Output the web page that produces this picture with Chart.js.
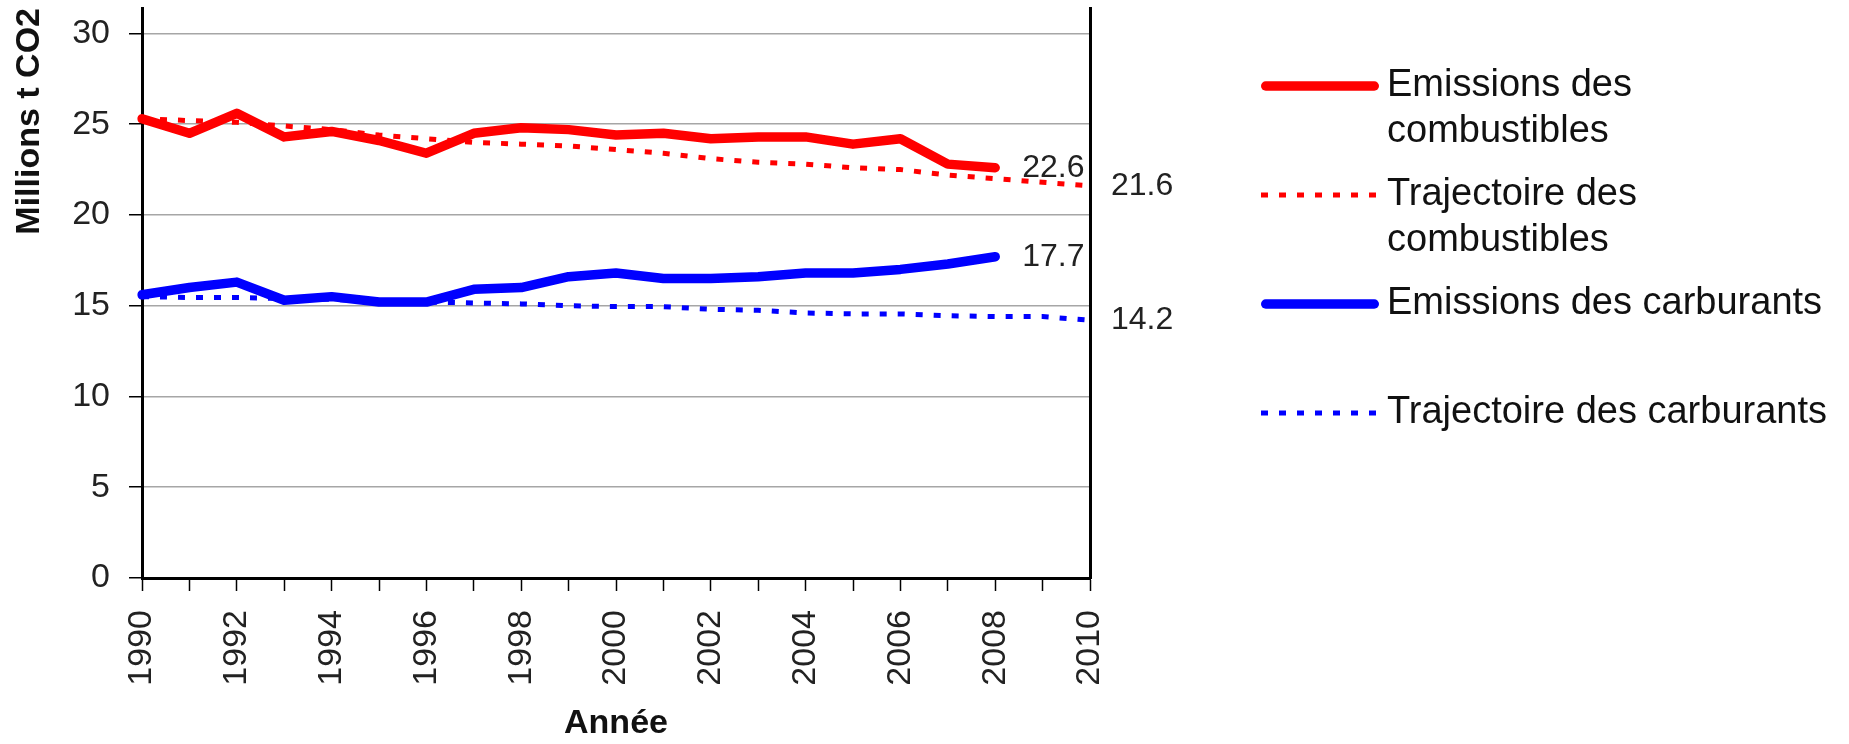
<!DOCTYPE html>
<html lang="fr">
<head>
    <meta charset="UTF-8">
    <title>Emissions de CO2 - combustibles et carburants</title>
    <script src="https://cdn.jsdelivr.net/npm/chart.js"></script>
    <style>
        body {
            margin: 0;
            background: #FFFFFF;
            font-family: 'Liberation Sans', Arial, sans-serif;
        }
        .chart-container {
            position: relative;
            width: 1849px;
            height: 744px;
        }
        #legend {
            position: absolute;
            left: 1261px;
            top: 60px;
            margin: 0;
            padding: 0;
            list-style: none;
        }
        #legend li {
            display: flex;
            align-items: flex-start;
            height: 109px;
        }
        #legend svg {
            flex: none;
            width: 118px;
            height: 52px;
            margin-right: 8px;
        }
        #legend span {
            font-size: 38px;
            line-height: 46px;
            color: #111111;
            max-width: 460px;
        }
    </style>
</head>
<body>
    <div class="chart-container">
        <canvas id="co2Chart"></canvas>
        <ul id="legend"></ul>
    </div>

    <script>
        // Data (Millions t CO2)
        const years = ['1990', '1991', '1992', '1993', '1994', '1995', '1996', '1997', '1998', '1999', '2000',
                       '2001', '2002', '2003', '2004', '2005', '2006', '2007', '2008', '2009', '2010'];
        const emisCombustibles = [25.3, 24.5, 25.6, 24.3, 24.6, 24.1, 23.4, 24.5, 24.8, 24.7, 24.4,
                                  24.5, 24.2, 24.3, 24.3, 23.9, 24.2, 22.8, 22.6];
        const trajCombustibles = [25.3, 25.2, 25.1, 24.9, 24.7, 24.4, 24.2, 24.0, 23.9, 23.8, 23.6,
                                  23.4, 23.1, 22.9, 22.8, 22.6, 22.5, 22.2, 22.0, 21.8, 21.6];
        const emisCarburants = [15.6, 16.0, 16.3, 15.3, 15.5, 15.2, 15.2, 15.9, 16.0, 16.6, 16.8,
                                16.5, 16.5, 16.6, 16.8, 16.8, 17.0, 17.3, 17.7];
        const trajCarburants = [15.5, 15.45, 15.45, 15.4, 15.35, 15.25, 15.2, 15.15, 15.1, 15.0, 14.95,
                                14.95, 14.8, 14.75, 14.6, 14.55, 14.55, 14.45, 14.4, 14.4, 14.2];
        const yTicks = [0, 5, 10, 15, 20, 25, 30];

        const FONT = "'Liberation Sans', Arial, sans-serif";
        Chart.defaults.font.family = FONT;
        Chart.defaults.color = '#222222';

        // value of the last point written next to it
        const endLabels = {
            id: 'endLabels',
            afterDatasetsDraw(chart, args, opts) {
                const ctx = chart.ctx;
                ctx.save();
                ctx.font = opts.size + 'px ' + FONT;
                ctx.fillStyle = opts.color;
                ctx.textAlign = 'left';
                ctx.textBaseline = 'middle';
                chart.data.datasets.forEach((ds, i) => {
                    const pts = chart.getDatasetMeta(i).data;
                    const last = pts[pts.length - 1];
                    const value = ds.data[ds.data.length - 1];
                    const offset = ds.borderDash ? opts.offsetDashed : opts.offset;
                    ctx.fillText(value.toFixed(1), last.x + offset, last.y);
                });
                ctx.restore();
            }
        };

        // legend on the right, built from the datasets
        const htmlLegend = {
            id: 'htmlLegend',
            afterUpdate(chart) {
                const ul = document.getElementById('legend');
                ul.innerHTML = '';
                chart.data.datasets.forEach(ds => {
                    const dashed = ds.borderDash && ds.borderDash.length;
                    const cap = dashed ? 'butt' : 'round';
                    const pad = dashed ? 0 : ds.borderWidth / 2;
                    const li = document.createElement('li');
                    li.innerHTML =
                        '<svg viewBox="0 0 118 52"><line x1="' + pad + '" y1="26" x2="' + (118 - pad) + '" y2="26"' +
                        ' stroke="' + ds.borderColor + '" stroke-width="' + ds.borderWidth + '"' +
                        ' stroke-linecap="' + cap + '"' +
                        (dashed ? ' stroke-dasharray="' + ds.borderDash.join(' ') + '"' : '') +
                        '/></svg><span>' + ds.label + '</span>';
                    ul.appendChild(li);
                });
            }
        };

        const ctx = document.getElementById('co2Chart').getContext('2d');
        const chart = new Chart(ctx, {
            type: 'line',
            data: {
                labels: years,
                datasets: [{
                    label: 'Emissions des combustibles',
                    data: emisCombustibles,
                    borderColor: '#FF0000',
                    borderWidth: 9.5,
                    borderJoinStyle: 'round',
                    borderCapStyle: 'round',
                }, {
                    label: 'Trajectoire des combustibles',
                    data: trajCombustibles,
                    borderColor: '#FF0000',
                    borderWidth: 5,
                    borderDash: [7, 11],
                }, {
                    label: 'Emissions des carburants',
                    data: emisCarburants,
                    borderColor: '#0000FF',
                    borderWidth: 9.5,
                    borderJoinStyle: 'round',
                    borderCapStyle: 'round',
                }, {
                    label: 'Trajectoire des carburants',
                    data: trajCarburants,
                    borderColor: '#0000FF',
                    borderWidth: 5,
                    borderDash: [7, 11],
                }]
            },
            options: {
                responsive: true,
                maintainAspectRatio: false,
                animation: false,
                elements: {
                    point: { radius: 0, hoverRadius: 0 },
                    line: { tension: 0, fill: false }
                },
                layout: {
                    padding: { top: 8, right: 759, bottom: 0, left: 0 }
                },
                scales: {
                    x: {
                        offset: false,
                        grid: {
                            offset: false,
                            drawOnChartArea: false,
                            tickLength: 13,
                            tickColor: '#000000',
                            tickWidth: 1.5,
                        },
                        border: { color: '#000000', width: 3 },
                        ticks: {
                            autoSkip: false,
                            maxRotation: 90,
                            minRotation: 90,
                            padding: 19,
                            font: { size: 34 },
                            callback: (v, i) => (i % 2 === 0 ? years[i] : ''),
                        },
                        title: {
                            display: true,
                            text: 'Année',
                            color: '#111111',
                            padding: 0,
                            font: { size: 34, weight: 'bold' },
                        },
                        afterFit: s => {
                            s.height = 166;
                            s.paddingLeft = 0;
                            s.paddingRight = 0;
                        }
                    },
                    y: {
                        min: 0,
                        max: 31.4,
                        afterBuildTicks: s => {
                            s.ticks = yTicks.map(v => ({ value: v }));
                        },
                        grid: {
                            color: '#A6A6A6',
                            lineWidth: 1.5,
                            tickLength: 13,
                            tickColor: '#000000',
                            tickWidth: 1.5,
                        },
                        border: { color: '#000000', width: 3 },
                        ticks: {
                            padding: 19,
                            font: { size: 34 },
                        },
                        title: {
                            display: true,
                            text: 'Millions t CO2',
                            align: 'end',
                            color: '#111111',
                            padding: { top: 9, bottom: 0 },
                            font: { size: 34, weight: 'bold' },
                        },
                        afterFit: s => {
                            s.width = 142;
                            s.paddingTop = 0;
                            s.paddingBottom = 0;
                        }
                    },
                    // plain black frame line on the right
                    yRight: {
                        position: 'right',
                        min: 0,
                        max: 31.4,
                        ticks: { display: false },
                        grid: { drawOnChartArea: false, drawTicks: false },
                        border: { color: '#000000', width: 3 },
                        afterFit: s => {
                            s.width = 0;
                            s.paddingTop = 0;
                            s.paddingBottom = 0;
                        }
                    }
                },
                plugins: {
                    legend: { display: false },
                    tooltip: { enabled: false },
                    endLabels: { size: 32, color: '#222222', offset: 27, offsetDashed: 21 },
                },
            },
            plugins: [endLabels, htmlLegend],
        });
    </script>
</body>
</html>
